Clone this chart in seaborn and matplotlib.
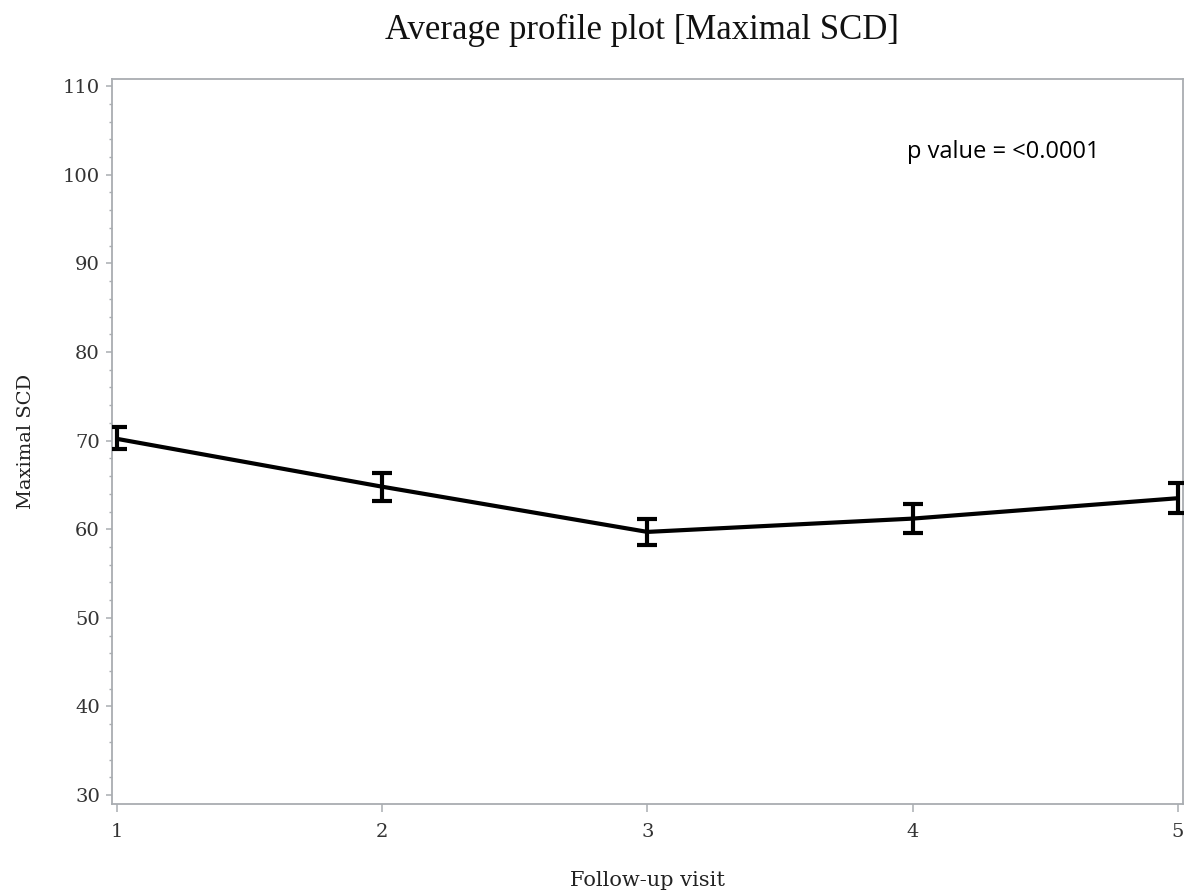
import matplotlib
matplotlib.use("Agg")
import matplotlib.pyplot as plt
from matplotlib.ticker import MultipleLocator
import numpy as np
import pandas as pd
import seaborn as sns

# Average profile of Maximal SCD by follow-up visit (mean with error bars)
visit = [1, 2, 3, 4, 5]
mean_scd = [70.2, 64.8, 59.7, 61.2, 63.5]
lower_scd = [69.0, 63.2, 58.2, 59.6, 61.8]
upper_scd = [71.5, 66.4, 61.2, 62.8, 65.2]
y_ticks = [30, 40, 50, 60, 70, 80, 90, 100, 110]
p_text = "p value = <0.0001"

df = pd.DataFrame({"visit": visit, "mean": mean_scd,
                   "lower": lower_scd, "upper": upper_scd})

sns.set_theme(style="white")
plt.rcParams["font.family"] = ["DejaVu Serif"]

fig = plt.figure(figsize=(11.92, 8.96), dpi=100)
ax = fig.add_axes([0.0937, 0.1027, 0.8988, 0.8091])

sns.lineplot(data=df, x="visit", y="mean", color="black", linewidth=3.0,
             ax=ax, zorder=3)
yerr = np.vstack([df["mean"] - df["lower"], df["upper"] - df["mean"]])
ax.errorbar(df["visit"], df["mean"], yerr=yerr, fmt="none", ecolor="black",
            elinewidth=3.0, capsize=7, capthick=3.0, zorder=4)

ax.set_xlim(0.98, 5.02)
ax.set_ylim(29.0, 110.8)
ax.set_xticks(visit)
ax.set_yticks(y_ticks)
ax.yaxis.set_minor_locator(MultipleLocator(2))

spine_col = "#a9adb1"
for s in ax.spines.values():
    s.set_color(spine_col)
    s.set_linewidth(1.3)
ax.tick_params(axis="both", which="major", direction="out", width=1.1,
               color=spine_col, labelsize=14, labelcolor="#333333",
               left=True, bottom=True)
ax.tick_params(axis="x", which="major", length=6, pad=8)
ax.tick_params(axis="y", which="major", length=4.5, pad=4)
ax.tick_params(axis="y", which="minor", direction="out", length=2.3,
               width=1.0, color=spine_col, left=True)

ax.set_xlabel("Follow-up visit", fontsize=15, color="#222222", labelpad=21)
ax.set_ylabel("Maximal SCD", fontsize=14, color="#222222", labelpad=20)

fig.text(0.539, 0.966, "Average profile plot [Maximal SCD]",
         ha="center", va="center", fontsize=25, color="#111111",
         family=["Liberation Serif"])

ax.text(0.742, 0.899, p_text, transform=ax.transAxes, ha="left",
        va="center", fontsize=17, color="black", family=["Open Sans"])

fig.savefig("out.png", dpi=100)
